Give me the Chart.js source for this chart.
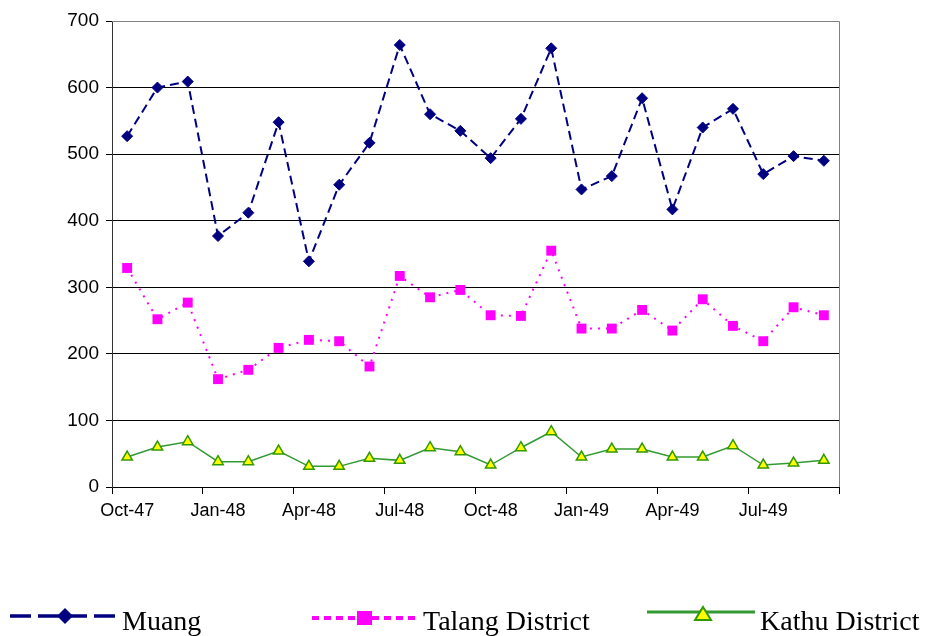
<!DOCTYPE html>
<html>
<head>
<meta charset="utf-8">
<script src="https://cdn.jsdelivr.net/npm/chart.js@4/dist/chart.umd.min.js"></script>
<style>
  html, body { margin: 0; padding: 0; background: #fff; }
  #wrap { position: relative; width: 926px; height: 636px; overflow: hidden; }
  #c { position: absolute; left: 0; top: 0; }
  .lg { position: absolute; font-family: "Liberation Serif", "Times New Roman", serif; font-size: 28px; line-height: 28px; color: #000; white-space: nowrap; }
  .sym { position: absolute; }
</style>
</head>
<body>
<div id="wrap">
  <canvas id="c" width="926" height="636"></canvas>
  <svg class="sym" style="left:0;top:595px" width="926" height="41">
    <!-- Muang symbol -->
    <line x1="10" y1="21" x2="120" y2="21" stroke="#000080" stroke-width="3.5" stroke-dasharray="21,7"/>
    <polygon points="65,13 73,21 65,29 57,21" fill="#000080"/>
    <!-- Talang symbol -->
    <line x1="312" y1="23" x2="418" y2="23" stroke="#FF00FF" stroke-width="4" stroke-dasharray="7,5"/>
    <rect x="357" y="16" width="15" height="14" fill="#FF00FF"/>
    <!-- Kathu symbol -->
    <line x1="647" y1="17" x2="755" y2="17" stroke="#339933" stroke-width="3"/>
    <polygon points="703,12 711,25 695,25" fill="#FFFF00" stroke="#339900" stroke-width="2"/>
  </svg>
  <div class="lg" id="lg0" style="left:122px;top:607px">Muang</div>
  <div class="lg" id="lg1" style="left:423px;top:607px">Talang District</div>
  <div class="lg" id="lg2" style="left:760px;top:607px">Kathu District</div>
</div>
<script>
// ---- data ----
const months = ["Oct-47","Nov-47","Dec-47","Jan-48","Feb-48","Mar-48","Apr-48","May-48","Jun-48","Jul-48","Aug-48","Sep-48",
                "Oct-48","Nov-48","Dec-48","Jan-49","Feb-49","Mar-49","Apr-49","May-49","Jun-49","Jul-49","Aug-49","Sep-49"];
const muang  = [527,600,609,377,412,548,339,454,517,664,560,535,494,553,659,447,467,584,417,540,568,470,497,490];
const talang = [329,252,277,162,176,209,221,219,181,317,285,296,258,257,355,238,238,266,235,282,242,219,270,258];
const kathu  = [45,60,68,38,38,54,31,31,43,40,59,53,33,59,83,45,57,57,45,45,62,33,36,40];
const seriesNames = ["Muang","Talang District","Kathu District"];
const yTicks = [0,100,200,300,400,500,600,700];

const frame = {
  id: 'frame',
  beforeDatasetsDraw(chart) {
    const a = chart.chartArea, ctx = chart.ctx;
    ctx.save();
    ctx.strokeStyle = '#808080';
    ctx.lineWidth = 1;
    ctx.beginPath();
    ctx.moveTo(a.left, Math.round(a.top) + 0.5);
    ctx.lineTo(Math.round(a.right) + 0.5, Math.round(a.top) + 0.5);
    ctx.lineTo(Math.round(a.right) + 0.5, a.bottom);
    ctx.stroke();
    ctx.restore();
  }
};

const xFont = { family: "'Liberation Sans', Arial, sans-serif", size: 18 };
const yFont = { family: "'Liberation Sans', Arial, sans-serif", size: 19 };

new Chart(document.getElementById('c'), {
  type: 'line',
  data: {
    labels: months,
    datasets: [
      { label: seriesNames[0], data: muang, borderColor: '#000080', backgroundColor: '#000080',
        borderWidth: 2, borderDash: [9,5], pointStyle: 'rectRot', pointRadius: 5.5,
        pointBorderWidth: 1, tension: 0, fill: false },
      { label: seriesNames[1], data: talang, borderColor: '#FF00FF', backgroundColor: '#FF00FF',
        borderWidth: 2, borderDash: [2,6], pointStyle: 'rect', pointRadius: 7,
        pointBorderWidth: 0, tension: 0, fill: false },
      { label: seriesNames[2], data: kathu, borderColor: '#339933', backgroundColor: '#FFFF00',
        pointBorderColor: '#339900', borderWidth: 1.5, pointStyle: 'triangle', pointRadius: 6,
        pointBorderWidth: 1.5, tension: 0, fill: false }
    ]
  },
  options: {
    responsive: false,
    animation: false,
    events: [],
    layout: { padding: { top: 21, right: 87, bottom: 109, left: 0 } },
    plugins: { legend: { display: false }, tooltip: { enabled: false } },
    scales: {
      x: {
        type: 'category',
        offset: true,
        grid: {
          offset: true,
          drawOnChartArea: false,
          drawTicks: true,
          tickLength: 7,
          tickWidth: 1,
          tickColor: (ctx) => (ctx.index === undefined || ctx.index % 3 === 0) ? '#000' : 'rgba(0,0,0,0)'
        },
        border: { display: true, color: '#000', width: 1 },
        ticks: {
          autoSkip: false, maxRotation: 0, minRotation: 0, padding: 6,
          color: '#000', font: xFont,
          callback: function(v, i) { return i % 3 === 0 ? months[i] : ''; }
        },
        afterFit: (s) => { s.height = 40; }
      },
      y: {
        min: 0, max: 700,
        afterBuildTicks: (s) => { s.ticks = yTicks.map(v => ({ value: v })); },
        grid: {
          color: (ctx) => ctx.tick && ctx.tick.value === 700 ? '#808080' : '#000',
          tickColor: '#000',
          lineWidth: 1,
          drawTicks: true,
          tickLength: 6
        },
        border: { display: true, color: '#333', width: 1 },
        ticks: { padding: 7, color: '#000', font: yFont },
        afterFit: (s) => { s.width = 112; }
      }
    }
  },
  plugins: [frame]
});
</script>
</body>
</html>
